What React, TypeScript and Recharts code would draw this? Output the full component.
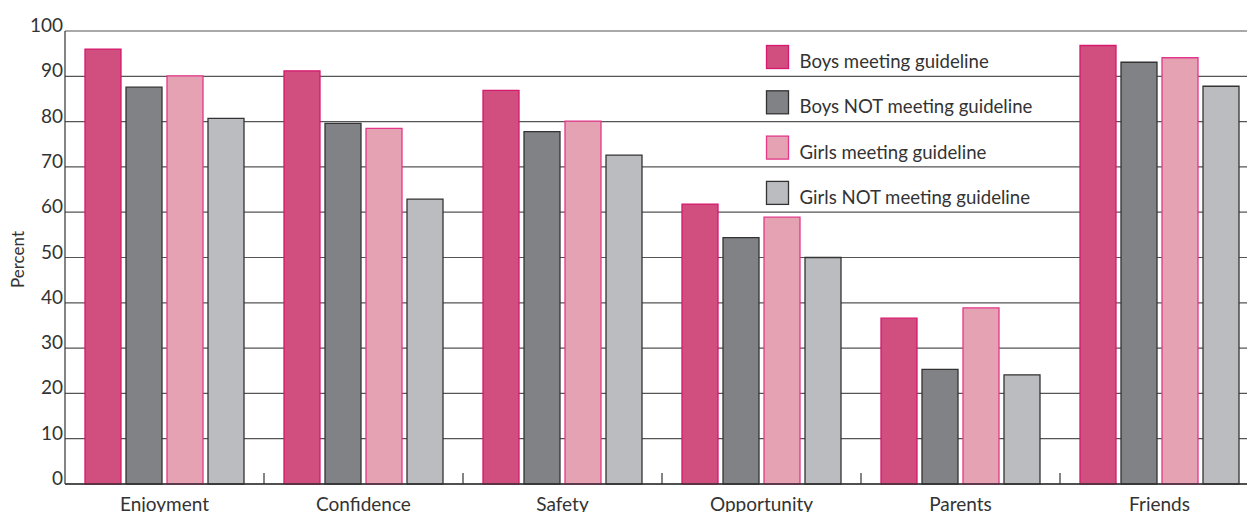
import React from "react";
import { BarChart, Bar, XAxis, YAxis, CartesianGrid } from "recharts";

const categories = ["Enjoyment", "Confidence", "Safety", "Opportunity", "Parents", "Friends"];
const boysMeeting = [96.0, 91.2, 86.9, 61.8, 36.6, 96.8];
const boysNotMeeting = [87.6, 79.6, 77.8, 54.4, 25.3, 93.1];
const girlsMeeting = [90.1, 78.5, 80.1, 58.9, 38.9, 94.1];
const girlsNotMeeting = [80.7, 62.9, 72.6, 50.0, 24.1, 87.8];
const yTicks = [0, 10, 20, 30, 40, 50, 60, 70, 80, 90, 100];

const seriesNames = [
  "Boys meeting guideline",
  "Boys NOT meeting guideline",
  "Girls meeting guideline",
  "Girls NOT meeting guideline",
];
const fills = ["#D14F7E", "#818286", "#E5A2B3", "#BBBCC0"];
const strokes = ["#D6186F", "#333333", "#E2388A", "#333333"];

const data = categories.map((c, i) => ({
  category: c,
  boysMeeting: boysMeeting[i],
  boysNotMeeting: boysNotMeeting[i],
  girlsMeeting: girlsMeeting[i],
  girlsNotMeeting: girlsNotMeeting[i],
}));

const keys = ["boysMeeting", "boysNotMeeting", "girlsMeeting", "girlsNotMeeting"];

const FONT = "Lato, 'Open Sans', sans-serif";

const XTick = (props: any) => {
  const { x, y, payload, index } = props;
  const off = payload && payload.offset ? payload.offset : 0;
  return (
    <g>
      {index > 0 && (
        <line x1={x - off} x2={x - off} y1={y - 11} y2={y} stroke="#333" strokeWidth={1.2} />
      )}
      <text x={x} y={y + 26.5} textAnchor="middle" fontFamily={FONT} fontSize={19} fill="#333">
        {payload.value}
      </text>
    </g>
  );
};

const YTick = (props: any) => {
  const { x, y, payload } = props;
  return (
    <text x={x - 2} y={y + 1} textAnchor="end" fontFamily={FONT} fontSize={19} fill="#333">
      {payload.value}
    </text>
  );
};

const ROW = 45.3;

const LegendBox = () => (
  <svg
    width={320}
    height={200}
    style={{ position: "absolute", left: 760, top: 40, overflow: "visible" }}
  >
    {seriesNames.map((n, i) => (
      <g key={n} transform={`translate(0, ${i * ROW})`}>
        <rect x={6.5} y={5.5} width={22} height={23} fill={fills[i]} stroke={strokes[i]} strokeWidth={1.3} />
        <text x={39.5} y={28} fontFamily={FONT} fontSize={18.6} fill="#333">
          {n}
        </text>
      </g>
    ))}
  </svg>
);

export default function App() {
  return (
    <div style={{ position: "absolute", left: 0, top: 0, width: 1247, height: 512, overflow: "hidden", background: "#fff" }}>
      <BarChart
        width={1259}
        height={520}
        data={data}
        margin={{ top: 31, right: 0, bottom: 0, left: 0 }}
        barSize={36}
        barGap={5}
        barCategoryGap={19}
      >
        <CartesianGrid vertical={false} stroke="#555" strokeWidth={1.2} />
        <XAxis
          dataKey="category"
          height={36}
          tick={<XTick />}
          tickLine={false}
          tickSize={0}
          tickMargin={0}
          axisLine={{ stroke: "#333", strokeWidth: 1.4 }}
          interval={0}
        />
        <YAxis
          width={65}
          domain={[0, 100]}
          ticks={yTicks}
          tick={<YTick />}
          tickLine={false}
          tickSize={0}
          tickMargin={0}
          axisLine={{ stroke: "#333", strokeWidth: 1.2 }}
          label={{
            value: "Percent",
            angle: -90,
            position: "insideLeft",
            offset: 0,
            style: { fontFamily: FONT, fontSize: 17, fill: "#333", textAnchor: "middle" },
            dx: 18,
            dy: 2,
          }}
        />
        {keys.map((k, i) => (
          <Bar
            key={k}
            dataKey={k}
            name={seriesNames[i]}
            fill={fills[i]}
            stroke={strokes[i]}
            strokeWidth={1.3}
            isAnimationActive={false}
          />
        ))}
      </BarChart>
      <LegendBox />
    </div>
  );
}
